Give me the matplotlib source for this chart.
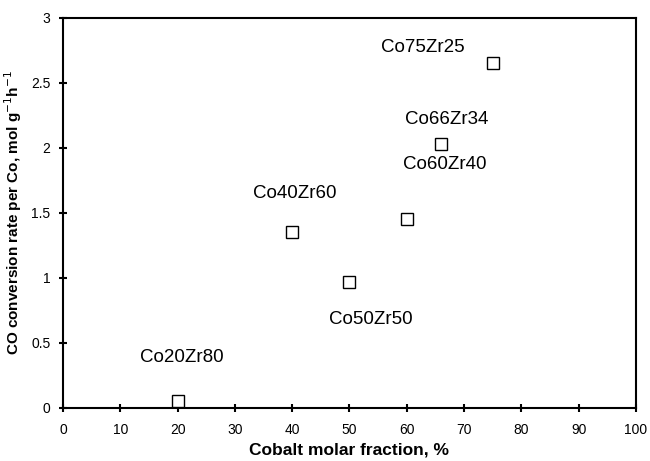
import matplotlib
matplotlib.use("Agg")
import matplotlib.pyplot as plt

plt.rcParams['font.family'] = ['Liberation Sans', 'DejaVu Sans']

# values
cobalt = [20, 40, 50, 60, 66, 75]
rate = [0.05, 1.35, 0.97, 1.45, 2.03, 2.65]
names = ["Co20Zr80", "Co40Zr60", "Co50Zr50", "Co60Zr40", "Co66Zr34", "Co75Zr25"]
# where each name sits (data coords)
label_x = [20.8, 40.5, 53.8, 66.7, 66.9, 62.8]
label_y = [0.39, 1.65, 0.68, 1.87, 2.22, 2.77]

fig = plt.figure(figsize=(6.5, 4.61), dpi=100)
ax = fig.add_axes([0.0969, 0.115, 0.8815, 0.846])

ax.plot(cobalt, rate, linestyle="none", marker="s", markersize=8,
        markerfacecolor="white", markeredgecolor="black", markeredgewidth=1.0,
        clip_on=False, zorder=3)

for n, lx, ly in zip(names, label_x, label_y):
    ax.text(lx, ly, n, ha="center", va="center", fontsize=13.5)

ax.set_xlim(0, 100)
ax.set_ylim(0, 3)
ax.set_xticks(range(0, 101, 10))
ax.set_yticks([0, 0.5, 1, 1.5, 2, 2.5, 3])
ax.set_yticklabels(["0", "0.5", "1", "1.5", "2", "2.5", "3"])
ax.tick_params(direction="inout", length=6, width=1.5, labelsize=10)
ax.tick_params(axis="x", pad=8)
ax.tick_params(axis="y", pad=6)
for s in ax.spines.values():
    s.set_linewidth(1.5)

ax.set_xlabel("Cobalt molar fraction, %", fontsize=12.5, fontweight="bold", labelpad=4)
ax.set_ylabel("CO conversion rate per Co, mol g$^{-1}$h$^{-1}$", fontsize=11,
              fontweight="bold", labelpad=5)

fig.savefig("out.png", dpi=100)
